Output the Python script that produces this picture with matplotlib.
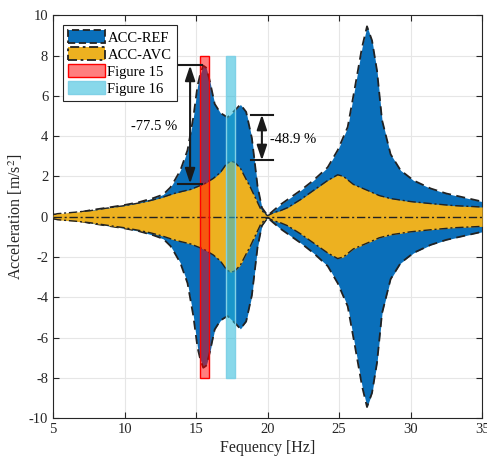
import matplotlib
matplotlib.use("Agg")
import matplotlib.pyplot as plt
from matplotlib.patches import Patch
import numpy as np

plt.rcParams['font.family'] = ['Liberation Serif', 'DejaVu Serif']
plt.rcParams['mathtext.fontset'] = 'stix'
plt.rcParams['axes.unicode_minus'] = False

# envelope of the reference (uncontrolled) response
freq_ref = [5.0, 5.3, 5.6, 6.0, 7.6, 9.0, 10.0, 11.0, 12.0, 12.7, 13.2, 13.5, 13.9,
            14.4, 14.8, 15.1, 15.3, 15.5, 15.7, 15.9, 16.0, 16.3, 16.7, 17.2, 17.7,
            18.1, 18.5, 18.9, 19.1, 19.3, 19.6, 20.0, 20.4, 20.9, 21.4, 22.3, 23.2,
            24.2, 24.9, 25.6, 26.1, 26.6, 26.95, 27.3, 27.65, 28.0, 28.6, 29.3, 30.2,
            31.4, 32.5, 35.0]
amp_ref = [0.12, 0.05, 0.12, 0.1, 0.32, 0.47, 0.58, 0.72, 0.92, 1.1, 1.45, 1.8, 2.3,
           3.3, 4.9, 6.5, 7.1, 7.5, 7.4, 6.9, 6.6, 5.6, 5.15, 4.93, 5.27,
           5.57, 5.2, 3.9, 2.7, 1.5, 0.45, 0.05, 0.3, 0.6, 0.85, 1.3, 1.8,
           2.45, 3.3, 4.45, 6.4, 8.4, 9.45, 8.75, 7.25, 4.8, 3.1, 2.3, 1.8,
           1.4, 1.15, 0.75]

# envelope with active vibration control
freq_avc = [5.0, 5.3, 6.5, 7.6, 9.0, 10.0, 11.0, 11.8, 12.6, 13.4, 14.0, 14.6, 15.3,
            15.6, 16.2, 16.7, 17.1, 17.4, 17.7, 18.1, 18.5, 18.8, 19.1, 19.5, 19.8,
            20.0, 20.4, 20.9, 21.4, 22.3, 23.2, 24.2, 24.9, 25.3, 26.0, 27.0, 27.8,
            28.6, 30.0, 31.4, 33.0, 35.0]
amp_avc = [0.1, 0.15, 0.22, 0.3, 0.45, 0.55, 0.68, 0.8, 0.95, 1.14, 1.25, 1.35, 1.55,
           1.64, 1.9, 2.2, 2.6, 2.76, 2.7, 2.4, 1.85, 1.45, 1.0, 0.4, 0.15,
           0.05, 0.2, 0.3, 0.45, 0.85, 1.3, 1.8, 2.08, 2.0, 1.6, 1.3, 1.05,
           0.9, 0.75, 0.65, 0.55, 0.48]

fig15_freq = 15.6
fig16_freq = 17.4
reduction_labels = ['-77.5 %', '-48.9 %']
ref_levels = [7.51, 5.07]
avc_levels = [1.64, 2.79]

blue = '#0A6FBA'
orange = '#EDB120'
red_face = (1, 0, 0, 0.5)
cyan_face = (0.15, 0.72, 0.85, 0.55)
cyan_edge = (0.5, 0.82, 0.9)

fig = plt.figure(figsize=(4.87, 4.62), dpi=100)
ax = fig.add_axes([0.109, 0.095, 0.881, 0.872])

fr = np.array(freq_ref); ar = np.array(amp_ref)
fa = np.array(freq_avc); aa = np.array(amp_avc)

ax.fill_between(fr, -ar, ar, color=blue, lw=0, zorder=2)
ax.plot(fr, ar, color='#222222', ls=(0, (5, 3)), lw=1.3, zorder=3)
ax.plot(fr, -ar, color='#222222', ls=(0, (5, 3)), lw=1.3, zorder=3)

ax.fill_between(fa, -aa, aa, color=orange, lw=0, zorder=4)
ax.plot(fa, aa, color='#222222', ls=(0, (6, 2, 1.5, 2)), lw=1.0, zorder=5)
ax.plot(fa, -aa, color='#222222', ls=(0, (6, 2, 1.5, 2)), lw=1.0, zorder=5)
ax.plot([5, 35], [0, 0], color='#222222', ls=(0, (6, 2, 1.5, 2)), lw=1.0, zorder=5)

ax.bar(fig15_freq, 16, bottom=-8, width=0.6, facecolor=red_face,
       edgecolor='red', lw=1.0, zorder=6)
ax.bar(fig16_freq, 16, bottom=-8, width=0.6, facecolor=cyan_face,
       edgecolor=cyan_edge, lw=1.0, zorder=6)

# reduction arrows
arrow_x = [14.58, 19.6]
cap_half = [0.85, 0.75]
text_pos = [(12.05, 4.5), (21.75, 3.85)]
for xa, ch, top, bot, lab, tp in zip(arrow_x, cap_half, ref_levels, avc_levels,
                                    reduction_labels, text_pos):
    ax.plot([xa - ch, xa + ch], [top, top], color='#1a1a1a', lw=1.5, zorder=7)
    ax.plot([xa - ch, xa + ch], [bot, bot], color='#1a1a1a', lw=1.5, zorder=7)
    ax.annotate('', xy=(xa, top), xytext=(xa, bot),
                arrowprops=dict(arrowstyle='<|-|>,head_length=0.9,head_width=0.3',
                                color='#1a1a1a', lw=1.5, shrinkA=0, shrinkB=0),
                zorder=7)
    ax.text(tp[0], tp[1], lab, ha='center', va='center', fontsize=10.5, zorder=7)

ax.set_xlim(5, 35)
ax.set_ylim(-10, 10)
ax.set_xticks(np.arange(5, 36, 5))
ax.set_yticks(np.arange(-10, 11, 2))
ax.grid(True, color='#e6e6e6', lw=0.8, zorder=0)
ax.set_axisbelow(True)
ax.tick_params(direction='in', top=True, right=True, labelsize=10.5,
               color='#262626', labelcolor='#262626', length=4)
for s in ax.spines.values():
    s.set_color('#262626')
    s.set_linewidth(0.8)
ax.set_xlabel('Fequency [Hz]', fontsize=11.5, color='#262626', labelpad=3)
ax.set_ylabel('Acceleration [m/s$^2$]', fontsize=11.5, color='#262626', labelpad=3)

handles = [
    Patch(facecolor=blue, edgecolor='#222222', ls=(0, (4, 2)), lw=1.3, label='ACC-REF'),
    Patch(facecolor=orange, edgecolor='#222222', ls=(0, (5, 2, 1.5, 2)), lw=1.3, label='ACC-AVC'),
    Patch(facecolor=red_face, edgecolor='red', lw=1.0, label='Figure 15'),
    Patch(facecolor=cyan_face, edgecolor=cyan_edge, lw=1.0, label='Figure 16'),
]
leg = ax.legend(handles=handles, loc='upper left', bbox_to_anchor=(0.023, 0.975),
                fontsize=10.5, fancybox=False, edgecolor='#262626', framealpha=1,
                handlelength=2.5, handleheight=0.9, handletextpad=0.2,
                labelspacing=0.2, borderpad=0.35, borderaxespad=0)
leg.get_frame().set_linewidth(0.8)
leg.set_zorder(10)

fig.savefig('out.png', dpi=100)
